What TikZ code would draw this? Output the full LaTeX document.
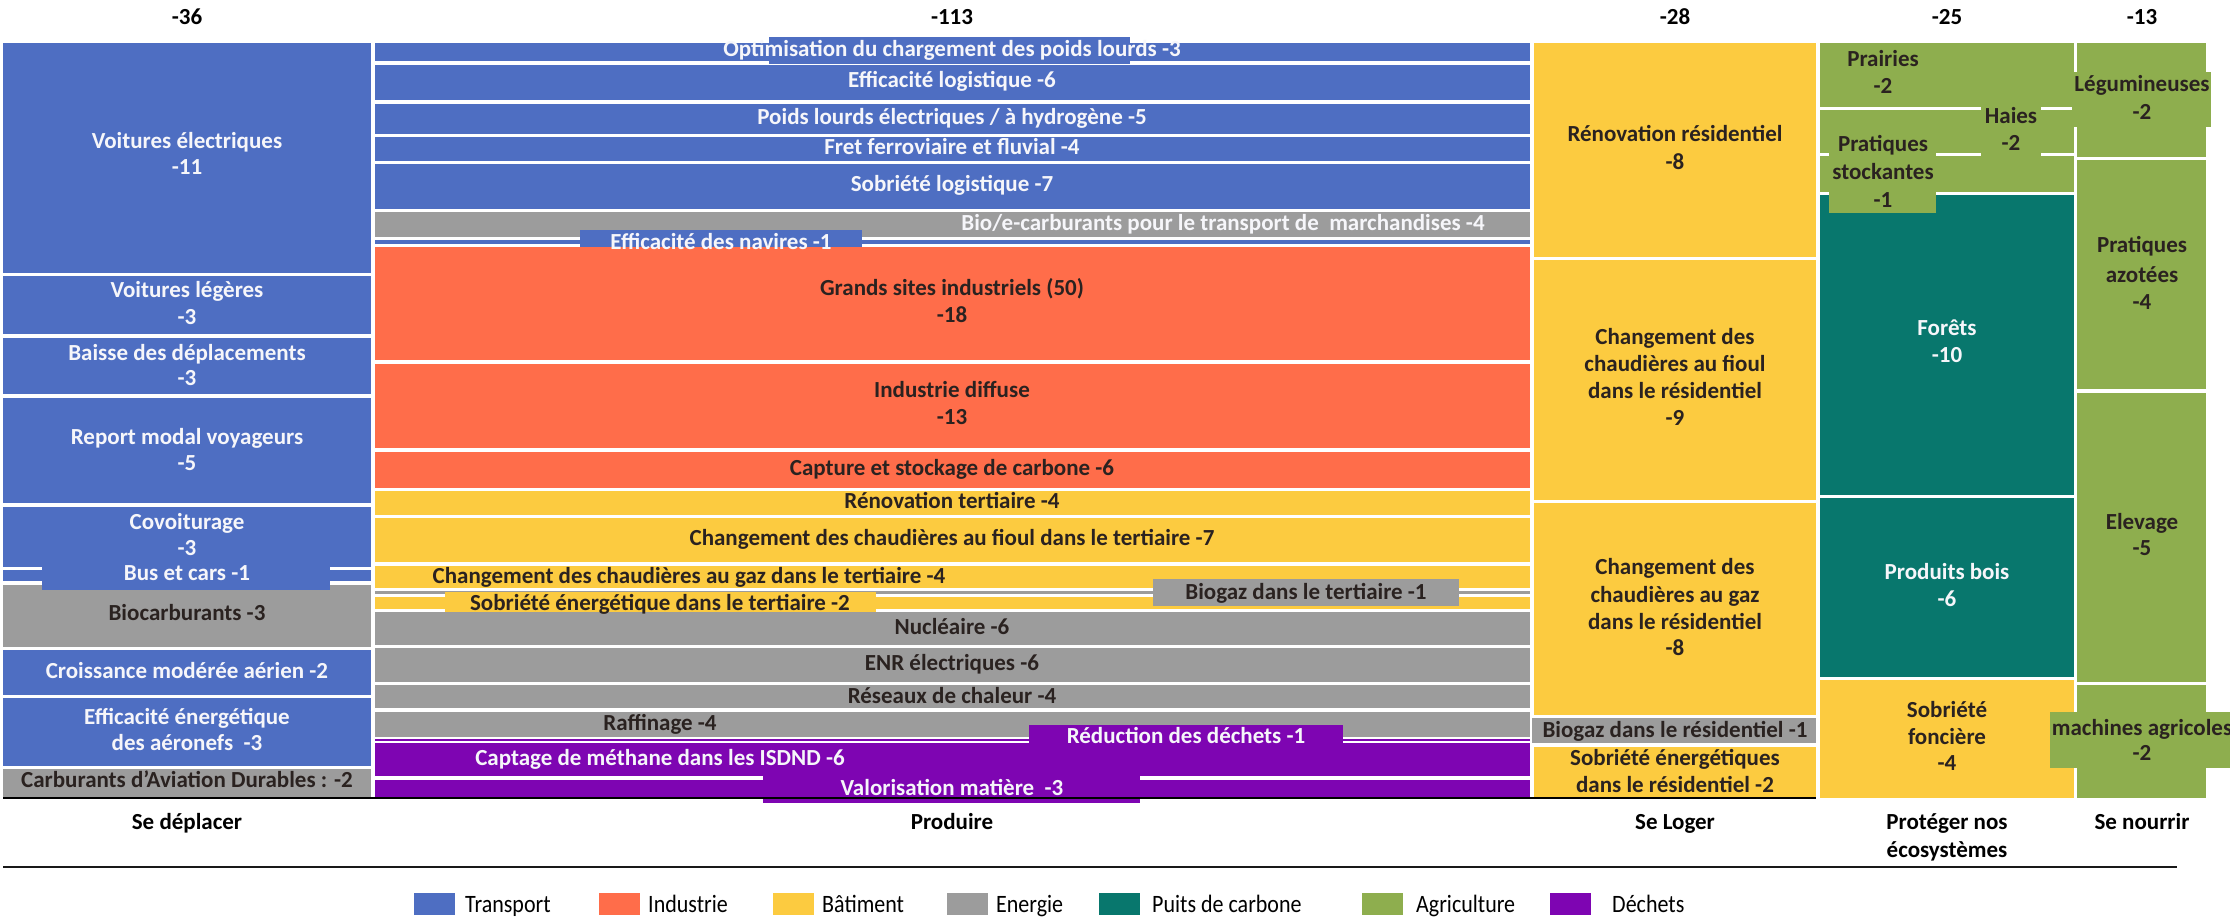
\documentclass[tikz,border=0pt]{standalone}
\usepackage{fontspec}
\setmainfont{Carlito}
\newfontfamily\legfont[FakeStretch=0.88]{Carlito}
\definecolor{cTr}{HTML}{4E6EC2}
\definecolor{cIn}{HTML}{FF6D4A}
\definecolor{cBa}{HTML}{FCCB40}
\definecolor{cEn}{HTML}{9C9C9C}
\definecolor{cPu}{HTML}{08776D}
\definecolor{cAg}{HTML}{8EAE4E}
\definecolor{cDe}{HTML}{7E05B2}
\definecolor{tDark}{HTML}{2A2220}
\definecolor{tLight}{HTML}{F6F6FA}
\tikzset{
  lb/.style={font=\bfseries\fontsize{23}{27}\selectfont, inner sep=0pt, anchor=base, text=tDark},
  lbw/.style={lb, text=tLight},
  hd/.style={lb, text=black},
  lg/.style={font=\legfont\fontsize{25}{28}\selectfont, inner sep=0pt, anchor=base west, text=black},
}
\newcommand\mylab[5]{\node[#1] (#2) at (#3,#4) {#5};}
\newcommand\mybox[5]{\fill[#5] (#1,#2) rectangle (#3,#4);}
\begin{document}
\begin{tikzpicture}[x=1pt,y=-1pt]
\useasboundingbox (0,0) rectangle (2230,923);
\fill[white] (0,0) rectangle (2230,923);
% ---------- Se deplacer ----------
\mybox{3}{43}{371}{273}{cTr}
\mybox{3}{276}{371}{334}{cTr}
\mybox{3}{338}{371}{394}{cTr}
\mybox{3}{398}{371}{503}{cTr}
\mybox{3}{507}{371}{567}{cTr}
\mybox{3}{570}{371}{581}{cTr}
\mybox{3}{585}{371}{647}{cEn}
\mybox{42}{565}{330}{590}{cTr}
\mybox{3}{650}{371}{695}{cTr}
\mybox{3}{698}{371}{766}{cTr}
\mybox{3}{769}{371}{798}{cEn}
\mylab{lbw}{a1}{187}{149}{Voitures électriques}
\mylab{lbw}{a2}{187}{175}{-11}
\mylab{lbw}{a3}{187}{297}{Voitures légères}
\mylab{lbw}{a4}{187}{324}{-3}
\mylab{lbw}{a5}{187}{360}{Baisse des déplacements}
\mylab{lbw}{a6}{187}{385}{-3}
\mylab{lbw}{a7}{187}{444}{Report modal voyageurs}
\mylab{lbw}{a8}{187}{470}{-5}
\mylab{lbw}{a9}{187}{529}{Covoiturage}
\mylab{lbw}{a10}{187}{555}{-3}
\mylab{lbw}{a11}{187}{580}{Bus et cars -1}
\mylab{lb}{a12}{187}{620}{Biocarburants -3}
\mylab{lbw}{a13}{187}{678}{Croissance modérée aérien -2}
\mylab{lbw}{a14}{187}{724}{Efficacité énergétique}
\mylab{lbw}{a15}{187}{750}{des aéronefs~ -3}
\mylab{lb}{a16}{187}{787}{Carburants d’Aviation Durables : -2}
% ---------- Produire ----------
\mybox{375}{43}{1530}{61}{cTr}
\mybox{769}{37}{1130}{64}{cTr}
\mybox{375}{65}{1530}{100}{cTr}
\mybox{375}{104}{1530}{134}{cTr}
\mybox{375}{137}{1530}{161}{cTr}
\mybox{375}{164}{1530}{209}{cTr}
\mybox{375}{212}{1530}{237}{cEn}
\mybox{375}{240}{1530}{244}{cTr}
\mybox{580}{230}{862}{255}{cTr}
\mybox{375}{247}{1530}{360}{cIn}
\mybox{375}{364}{1530}{448}{cIn}
\mybox{375}{452}{1530}{488}{cIn}
\mybox{375}{491}{1530}{515}{cBa}
\mybox{375}{518}{1530}{562}{cBa}
\mybox{375}{566}{1530}{588}{cBa}
\mybox{375}{591}{1530}{594}{cEn}
\mybox{375}{597}{1530}{609}{cBa}
\mybox{1153}{579}{1459}{606}{cEn}
\mybox{445}{592}{876}{617}{cBa}
\mybox{375}{612}{1530}{645}{cEn}
\mybox{375}{648}{1530}{682}{cEn}
\mybox{375}{685}{1530}{708}{cEn}
\mybox{375}{712}{1530}{737}{cEn}
\mybox{375}{739}{1530}{741}{cDe}
\mybox{1029}{725}{1343}{745}{cDe}
\mybox{375}{743}{1530}{776}{cDe}
\mybox{375}{780}{1530}{798}{cDe}
\mybox{763}{775}{1140}{803}{cDe}
\mylab{lbw}{b1}{952}{57}{Optimisation du chargement des poids lourds -3}
\mylab{lbw}{b2}{952}{88}{Efficacité logistique -6}
\mylab{lbw}{b3}{952}{125}{Poids lourds électriques / à hydrogène -5}
\mylab{lbw}{b4}{952}{155}{Fret ferroviaire et fluvial -4}
\mylab{lbw}{b5}{952}{191}{Sobriété logistique -7}
\mylab{lbw}{b6}{1223}{230}{Bio/e-carburants pour le transport de~ marchandises -4}
\mylab{lbw}{b7}{721}{249}{Efficacité des navires -1}
\mylab{lb}{b8}{952}{295}{Grands sites industriels (50)}
\mylab{lb}{b9}{952}{322}{-18}
\mylab{lb}{b10}{952}{397}{Industrie diffuse}
\mylab{lb}{b11}{952}{424}{-13}
\mylab{lb}{b12}{952}{475}{Capture et stockage de carbone -6}
\mylab{lb}{b13}{952}{508}{Rénovation tertiaire -4}
\mylab{lb}{b14}{952}{545}{Changement des chaudières au fioul dans le tertiaire -7}
\mylab{lb}{b15}{689}{583}{Changement des chaudières au gaz dans le tertiaire -4}
\mylab{lb}{b16}{1306}{599}{Biogaz dans le tertiaire -1}
\mylab{lb}{b17}{660}{610}{Sobriété énergétique dans le tertiaire -2}
\mylab{lb}{b18}{952}{634}{Nucléaire -6}
\mylab{lb}{b19}{952}{670}{ENR électriques -6}
\mylab{lb}{b20}{952}{703}{Réseaux de chaleur -4}
\mylab{lb}{b21}{660}{730}{Raffinage -4}
\mylab{lbw}{b22}{1186}{743}{Réduction des déchets -1}
\mylab{lbw}{b23}{660}{765}{Captage de méthane dans les ISDND -6}
\mylab{lbw}{b24}{952}{795}{Valorisation matière~ -3}
% ---------- Se Loger ----------
\mybox{1534}{43}{1816}{257}{cBa}
\mybox{1534}{260}{1816}{500}{cBa}
\mybox{1534}{503}{1816}{715}{cBa}
\mybox{1532}{718}{1816}{743}{cEn}
\mybox{1534}{747}{1816}{798}{cBa}
\mylab{lb}{c1}{1675}{142}{Rénovation résidentiel}
\mylab{lb}{c2}{1675}{169}{-8}
\mylab{lb}{c3}{1675}{344}{Changement des}
\mylab{lb}{c4}{1675}{371}{chaudières au fioul}
\mylab{lb}{c5}{1675}{398}{dans le résidentiel}
\mylab{lb}{c6}{1675}{425}{-9}
\mylab{lb}{c7}{1675}{574}{Changement des}
\mylab{lb}{c8}{1675}{602}{chaudières au gaz}
\mylab{lb}{c9}{1675}{629}{dans le résidentiel}
\mylab{lb}{c10}{1675}{655}{-8}
\mylab{lb}{c11}{1675}{737}{Biogaz dans le résidentiel -1}
\mylab{lb}{c12}{1675}{765}{Sobriété énergétiques}
\mylab{lb}{c13}{1675}{792}{dans le résidentiel -2}
% ---------- Proteger ----------
\mybox{1820}{43}{2074}{107}{cAg}
\mybox{1820}{110}{2074}{153}{cAg}
\mybox{1820}{156}{2074}{192}{cAg}
\mybox{1981}{104}{2041}{160}{cAg}
\mybox{1820}{195}{2074}{495}{cPu}
\mybox{1820}{498}{2074}{677}{cPu}
\mybox{1829}{137}{1936}{213}{cAg}
\mybox{1820}{680}{2074}{798}{cBa}
\mylab{lb}{d1}{1883}{67}{Prairies}
\mylab{lb}{d2}{1883}{94}{-2}
\mylab{lb}{d3}{2011}{124}{Haies}
\mylab{lb}{d4}{2011}{150}{-2}
\mylab{lb}{d5}{1883}{152}{Pratiques}
\mylab{lb}{d6}{1883}{179}{stockantes}
\mylab{lb}{d7}{1883}{207}{-1}
\mylab{lbw}{d8}{1947}{335}{Forêts}
\mylab{lbw}{d9}{1947}{362}{-10}
\mylab{lbw}{d10}{1947}{579}{Produits bois}
\mylab{lbw}{d11}{1947}{606}{-6}
\mylab{lb}{d12}{1947}{717}{Sobriété}
\mylab{lb}{d13}{1947}{744}{foncière}
\mylab{lb}{d14}{1947}{770}{-4}
% ---------- Se nourrir ----------
\mybox{2077}{43}{2206}{157}{cAg}
\mybox{2072}{72}{2211}{127}{cAg}
\mybox{2077}{160}{2206}{389}{cAg}
\mybox{2077}{393}{2206}{682}{cAg}
\mybox{2077}{685}{2206}{798}{cAg}
\mybox{2050}{712}{2230}{768}{cAg}
\mylab{lb}{e1}{2142}{92}{Légumineuses}
\mylab{lb}{e2}{2142}{120}{-2}
\mylab{lb}{e3}{2142}{252}{Pratiques}
\mylab{lb}{e4}{2142}{282}{azotées}
\mylab{lb}{e5}{2142}{309}{-4}
\mylab{lb}{e6}{2142}{529}{Elevage}
\mylab{lb}{e7}{2142}{555}{-5}
\mylab{lb}{e8}{2142}{735}{machines agricoles}
\mylab{lb}{e9}{2142}{760}{-2}
% ---------- headers and footers ----------
\mylab{hd}{h1}{187}{25}{-36}
\mylab{hd}{h2}{952}{25}{-113}
\mylab{hd}{h3}{1675}{25}{-28}
\mylab{hd}{h4}{1947}{25}{-25}
\mylab{hd}{h5}{2142}{25}{-13}
\mylab{hd}{f1}{187}{829}{Se déplacer}
\mylab{hd}{f2}{952}{829}{Produire}
\mylab{hd}{f3}{1675}{829}{Se Loger}
\mylab{hd}{f4}{1947}{829}{Protéger nos}
\mylab{hd}{f5}{1947}{857}{écosystèmes}
\mylab{hd}{f6}{2142}{829}{Se nourrir}
\coordinate (base0) at (3,798);
\coordinate (base1) at (1816,798);
\draw[line width=1.6pt, black] (base0) -- (base1);
\coordinate (rule0) at (3,867);
\coordinate (rule1) at (2177,867);
\draw[line width=2.6pt, black!90] (rule0) -- (rule1);
% ---------- legend ----------
\mybox{414}{893}{455}{915}{cTr}
\mybox{599}{893}{640}{915}{cIn}
\mybox{773}{893}{814}{915}{cBa}
\mybox{947}{893}{988}{915}{cEn}
\mybox{1099}{893}{1140}{915}{cPu}
\mybox{1362}{893}{1403}{915}{cAg}
\mybox{1550}{893}{1591}{915}{cDe}
\mylab{lg}{g1}{465}{912}{Transport}
\mylab{lg}{g2}{648}{912}{Industrie}
\mylab{lg}{g3}{822}{912}{Bâtiment}
\mylab{lg}{g4}{996}{912}{Energie}
\mylab{lg}{g5}{1152}{912}{Puits de carbone}
\mylab{lg}{g6}{1416}{912}{Agriculture}
\mylab{lg}{g7}{1612}{912}{Déchets}
\end{tikzpicture}
\end{document}
